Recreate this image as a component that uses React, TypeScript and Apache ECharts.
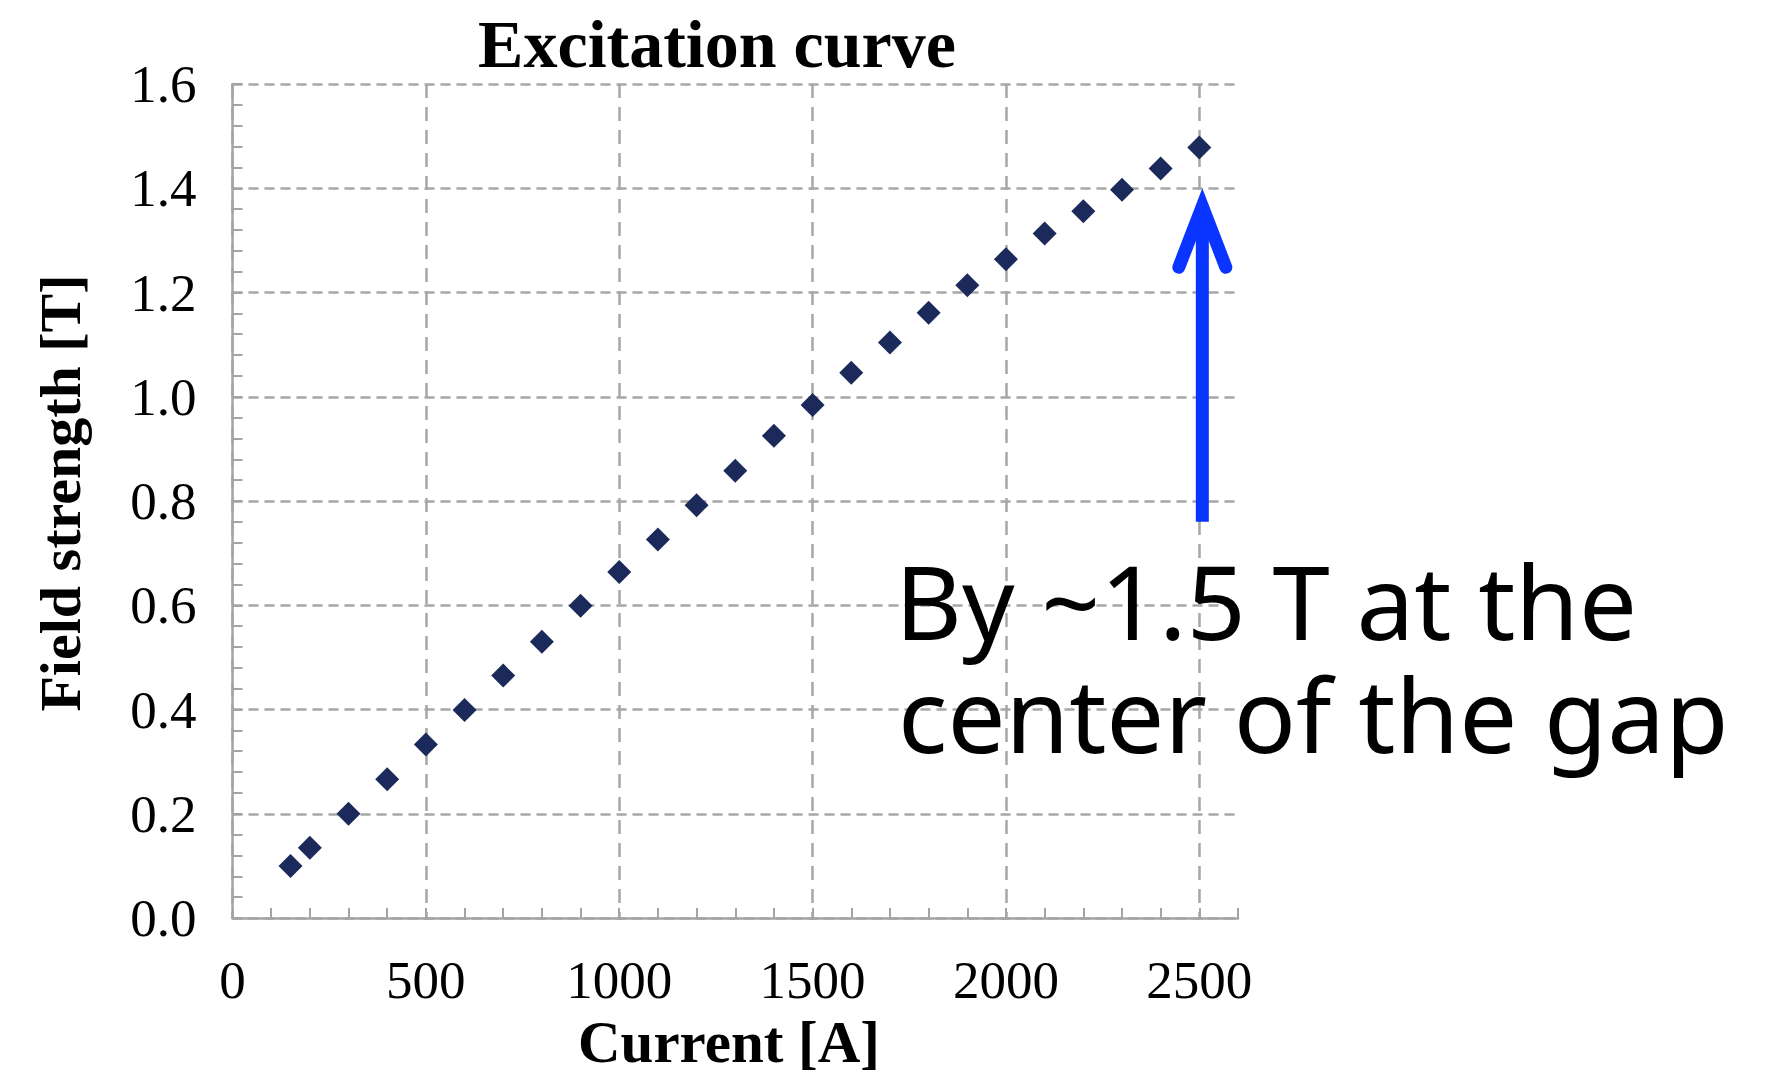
import React, { useEffect, useRef } from "react";
import * as echarts from "echarts";

// Excitation curve of the magnet: coil current vs. field strength at the gap centre
const currentA = [
  150, 200, 300, 400, 500, 600, 700, 800, 900, 1000, 1100, 1200, 1300,
  1400, 1500, 1600, 1700, 1800, 1900, 2000, 2100, 2200, 2300, 2400, 2500,
];
const fieldT = [
  0.1, 0.135, 0.2, 0.266, 0.333, 0.399, 0.465, 0.53, 0.599, 0.664, 0.726,
  0.792, 0.858, 0.925, 0.984, 1.046, 1.104, 1.161, 1.214, 1.264, 1.313,
  1.356, 1.397, 1.438, 1.478,
];

const titleText = "Excitation curve";
const xAxisName = "Current [A]";
const yAxisName = "Field strength [T]";
const noteLines = ["By ~1.5 T at the", "center of the gap"];

// Arrow annotation, in data units
const arrowX = 2500;
const arrowTipY = 1.4;
const arrowBaseY = 0.76;

const SERIF = '"Liberation Serif", "Times New Roman", serif';
const AXIS_GRAY = "#a4a4a4";
const GRID_GRAY = "#a6a6a6";
const MARK = "#1b2a5a";
const ARROW_BLUE = "#0a34ff";

export default function App() {
  const ref = useRef<HTMLDivElement>(null);

  useEffect(() => {
    if (!ref.current) return;
    const chart = echarts.init(ref.current, undefined, { renderer: "svg" });

    const points = currentA.map((x, i) => [x, fieldT[i]]);

    chart.setOption({
      animation: false,
      backgroundColor: "#ffffff",
      grid: {
        left: 232.5,
        right: 530,
        top: 84,
        bottom: 162,
        containLabel: false,
        outerBoundsMode: "none",
      },
      xAxis: {
        type: "value",
        min: 0,
        max: 2600,
        interval: 500,
        axisLine: { show: true, lineStyle: { color: AXIS_GRAY, width: 2.5 } },
        axisTick: {
          show: true,
          inside: true,
          length: 10,
          lineStyle: { color: AXIS_GRAY, width: 2 },
        },
        minorTick: {
          show: true,
          splitNumber: 5,
          length: 10,
          lineStyle: { color: AXIS_GRAY, width: 2 },
        },
        splitLine: {
          show: true,
          showMaxLine: false,
          lineStyle: { color: GRID_GRAY, width: 2.5, type: [14, 9] },
        },
        axisLabel: {
          margin: 35,
          fontFamily: SERIF,
          fontSize: 53,
          color: "#000",
          formatter: (v: number) => (v % 500 === 0 ? String(v) : ""),
        },
      },
      yAxis: {
        type: "value",
        min: 0,
        max: 1.6,
        interval: 0.2,
        axisLine: { show: true, lineStyle: { color: AXIS_GRAY, width: 2.5 } },
        axisTick: {
          show: true,
          inside: true,
          length: 10,
          lineStyle: { color: AXIS_GRAY, width: 2 },
        },
        minorTick: {
          show: true,
          splitNumber: 5,
          length: 10,
          lineStyle: { color: AXIS_GRAY, width: 2 },
        },
        splitLine: {
          show: true,
          lineStyle: { color: GRID_GRAY, width: 2.5, type: [10, 6] },
        },
        axisLabel: {
          margin: 36,
          fontFamily: SERIF,
          fontSize: 53,
          color: "#000",
          formatter: (v: number) => v.toFixed(1),
        },
      },
      series: [
        {
          type: "scatter",
          data: points,
          symbol: "diamond",
          symbolSize: 24,
          itemStyle: { color: MARK, opacity: 1 },
        },
      ],
    });

    const [tipX, tipY] = chart.convertToPixel({ gridIndex: 0 }, [arrowX, arrowTipY]) as number[];
    const [, baseY] = chart.convertToPixel({ gridIndex: 0 }, [arrowX, arrowBaseY]) as number[];
    const ax = tipX + 3;

    const noteStyle = {
      fontFamily: '"Noto Sans", sans-serif',
      fontSize: 103,
      lineHeight: 112,
      fill: "#000",
      align: "left",
      verticalAlign: "middle",
    };

    chart.setOption({
      graphic: [
        {
          type: "text",
          x: 717,
          y: 44,
          style: {
            text: titleText,
            fontFamily: SERIF,
            fontWeight: "bold",
            fontSize: 68,
            fill: "#000",
            align: "center",
            verticalAlign: "middle",
          },
        },
        {
          type: "text",
          x: 729,
          y: 1042,
          style: {
            text: xAxisName,
            fontFamily: SERIF,
            fontWeight: "bold",
            fontSize: 59,
            fill: "#000",
            align: "center",
            verticalAlign: "middle",
          },
        },
        {
          type: "text",
          x: 60,
          y: 493,
          rotation: Math.PI / 2,
          style: {
            text: yAxisName,
            fontFamily: SERIF,
            fontWeight: "bold",
            fontSize: 58,
            fill: "#000",
            align: "center",
            verticalAlign: "middle",
          },
        },
        {
          type: "line",
          shape: { x1: ax, y1: baseY, x2: ax, y2: tipY + 26 },
          style: { stroke: ARROW_BLUE, lineWidth: 13, lineCap: "butt" },
        },
        {
          type: "polyline",
          shape: {
            points: [
              [ax - 23.5, tipY + 79],
              [ax, tipY + 18],
              [ax + 23.5, tipY + 79],
            ],
          },
          style: {
            stroke: ARROW_BLUE,
            fill: null,
            lineWidth: 13,
            lineCap: "round",
            lineJoin: "miter",
            miterLimit: 10,
          },
        },
        {
          type: "text",
          x: 895,
          y: 600,
          style: { ...noteStyle, text: noteLines[0] },
        },
        {
          type: "text",
          x: 898,
          y: 713,
          style: { ...noteStyle, text: noteLines[1] },
        },
      ],
    });

    return () => chart.dispose();
  }, []);

  return (
    <div
      ref={ref}
      style={{
        position: "absolute",
        left: 0,
        top: 0,
        width: 1768,
        height: 1080,
        background: "#fff",
      }}
    />
  );
}
